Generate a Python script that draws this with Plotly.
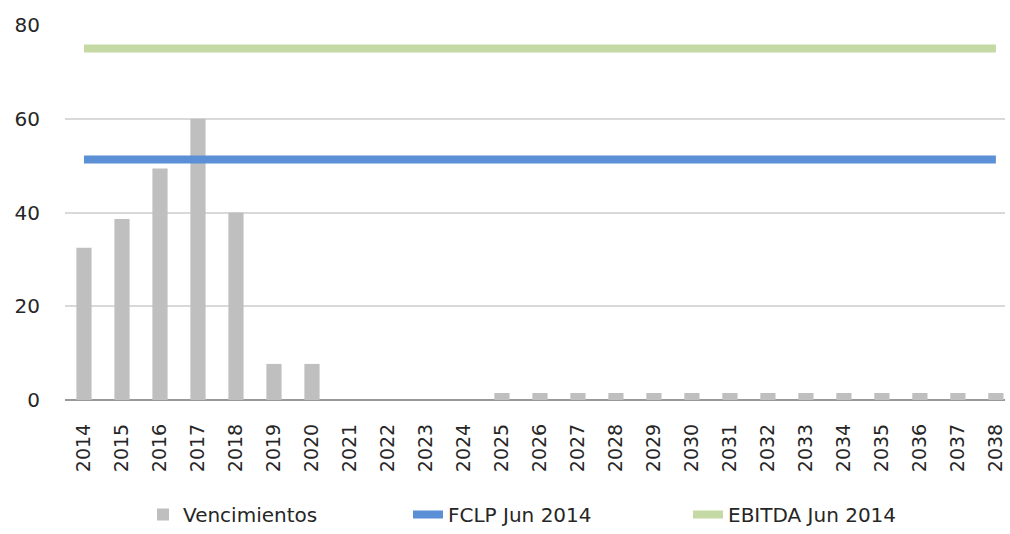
import plotly.graph_objects as go

years = [str(y) for y in range(2014, 2039)]
vencimientos = [32.5, 38.6, 49.4, 60, 40, 7.7, 7.7, 0, 0, 0, 0,
                1.5, 1.5, 1.5, 1.5, 1.5, 1.5, 1.5, 1.5, 1.5, 1.5, 1.5, 1.5, 1.5, 1.5]
fclp_jun_2014 = [51.3] * len(years)
ebitda_jun_2014 = [75.0] * len(years)

font_family = "'DejaVu Sans', sans-serif"
text_color = "#262626"

fig = go.Figure()
fig.add_trace(go.Bar(
    x=years, y=vencimientos, name="Vencimientos", legend="legend",
    marker=dict(color="#bfbfbf", line=dict(width=0)),
))
fig.add_trace(go.Scatter(
    x=years, y=fclp_jun_2014, name="FCLP Jun 2014", mode="lines", legend="legend2",
    line=dict(color="#5b8fd6", width=8),
))
fig.add_trace(go.Scatter(
    x=years, y=ebitda_jun_2014, name="EBITDA Jun 2014", mode="lines", legend="legend3",
    line=dict(color="#c4d9a3", width=8),
))


def legend_box(x_px):
    # one single-entry legend per series, placed along the bottom row
    return dict(
        orientation="h", xref="container", x=x_px / 1010, xanchor="left",
        yref="container", y=0, yanchor="bottom",
        font=dict(size=20, color=text_color), bgcolor="rgba(0,0,0,0)",
    )


fig.update_layout(
    width=1010, height=534,
    margin=dict(l=65, r=5, t=25, b=134),
    paper_bgcolor="white", plot_bgcolor="white",
    bargap=0.6,
    font=dict(family=font_family, size=19, color=text_color),
    showlegend=True,
    legend=legend_box(143),
    legend2=legend_box(408),
    legend3=legend_box(688),
    xaxis=dict(
        type="category", tickangle=-90, showgrid=False, automargin=False,
        range=[-0.5, 24.24],
        showline=False, ticks="", tickfont=dict(size=19), ticklabelstandoff=19,
    ),
    yaxis=dict(
        range=[0, 80], tickvals=[0, 20, 40, 60, 80], showgrid=True, automargin=False,
        gridcolor="#d9d9d9", gridwidth=1.5, zeroline=True, zerolinecolor="#999999",
        zerolinewidth=2, showline=False, ticks="", ticklabelstandoff=24,
        tickfont=dict(size=20),
    ),
)

fig.write_html("out.html")
